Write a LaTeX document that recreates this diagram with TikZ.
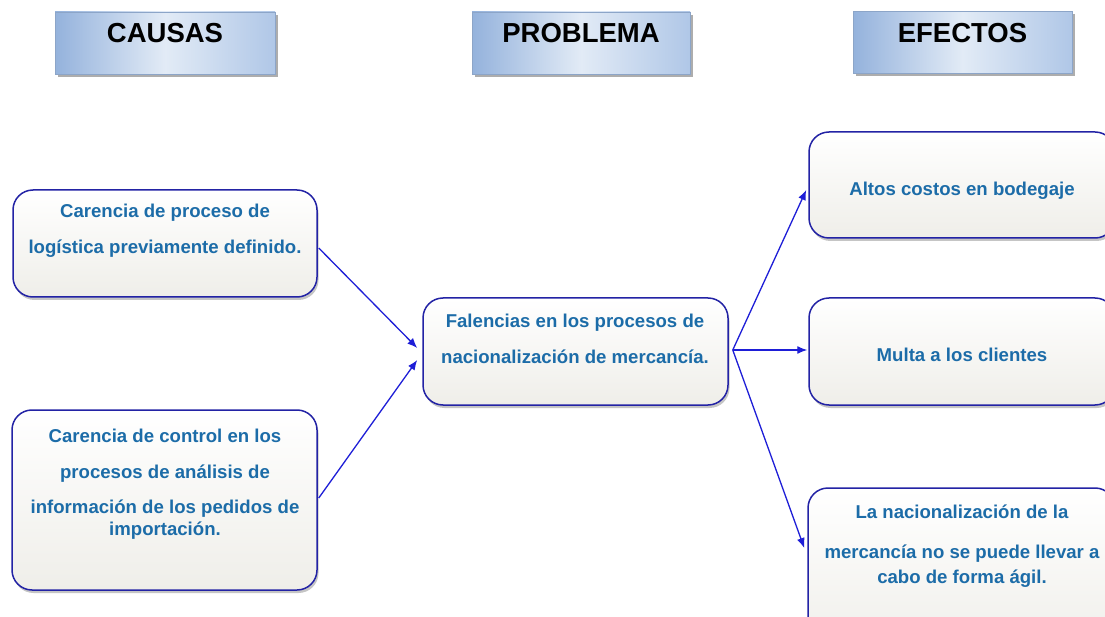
\documentclass[tikz,border=0pt]{standalone}
\usepackage{fontspec}
\setmainfont{Liberation Sans}
\usetikzlibrary{shadows,calc,arrows.meta}
\definecolor{txtblue}{RGB}{28,108,168}
\definecolor{edgeblue}{RGB}{35,35,165}
\definecolor{arrblue}{RGB}{30,30,215}
\definecolor{hdrA}{RGB}{148,178,220}
\definecolor{hdrB}{RGB}{226,235,246}
\definecolor{hdrC}{RGB}{176,199,231}
\definecolor{hdredge}{RGB}{140,165,200}
\definecolor{boxbot}{RGB}{239,238,233}
\begin{document}
\begin{tikzpicture}[x=1pt,y=-1pt,
  hdr/.style={draw=hdredge, line width=0.8pt, left color=hdrA, right color=hdrC, middle color=hdrB,
    drop shadow={shadow xshift=3pt,shadow yshift=-3pt,fill=black!40,opacity=.8},
    minimum height=62pt, inner sep=0pt},
  hdrtext/.style={font=\fontsize{27.5}{30}\selectfont\bfseries, text=black, anchor=base, inner sep=0pt},
  rbox/.style={draw=edgeblue, line width=1.5pt, rounded corners=20pt, top color=white, bottom color=boxbot,
    drop shadow={shadow xshift=1.5pt, shadow yshift=-3pt, fill=black!45, opacity=.5}, inner sep=0pt},
  ln/.style={font=\fontsize{18.6}{22}\selectfont\bfseries, text=txtblue, anchor=base, inner sep=0pt},
  arr/.style={draw=arrblue, line width=1.3pt, -{Latex[length=10pt,width=8pt]}}]
\useasboundingbox (0,0) rectangle (1105,617);
\clip (0,0) rectangle (1105,617);
\fill[white] (0,0) rectangle (1105,617);

% headers
\node[hdr, minimum width=220pt] (hc) at (165,43) {};
\node[hdr, minimum width=218pt] (hp) at (581,43) {};
\node[hdr, minimum width=219pt] (he) at (962.5,42.5) {};
\node[hdrtext] (hct) at (165,43) {CAUSAS};
\node[hdrtext] (hpt) at (581,43) {PROBLEMA};
\node[hdrtext] (het) at (962.5,43) {EFECTOS};

% boxes
\node[rbox, minimum width=304pt, minimum height=107pt] (c1) at (165,243.5) {};
\node[rbox, minimum width=305pt, minimum height=180pt] (c2) at (164.5,500) {};
\node[rbox, minimum width=305pt, minimum height=107pt] (pb) at (575.5,351.5) {};
\node[rbox, minimum width=306pt, minimum height=106pt] (e1) at (962,185) {};
\node[rbox, minimum width=306pt, minimum height=107pt] (e2) at (962,351.5) {};
\node[rbox, minimum width=307pt, minimum height=172pt] (e3) at (961.5,574) {};

% texts
\node[ln] (c1a) at (165,218) {Carencia de proceso de};
\node[ln] (c1b) at (165,254) {logística previamente definido.};
\node[ln] (c2a) at (165,442) {Carencia de control en los};
\node[ln] (c2b) at (165,478) {procesos de análisis de};
\node[ln] (c2c) at (165,513) {información de los pedidos de};
\node[ln] (c2d) at (165,535) {importación.};
\node[ln] (pba) at (575,327) {Falencias en los procesos de};
\node[ln] (pbb) at (575,363) {nacionalización de mercancía.};
\node[ln] (e1a) at (962,196) {Altos costos en bodegaje};
\node[ln] (e2a) at (962,361) {Multa a los clientes};
\node[ln] (e3a) at (962,518) {La nacionalización de la};
\node[ln] (e3b) at (962,558) {mercancía no se puede llevar a};
\node[ln] (e3c) at (962,583) {cabo de forma ágil.};

% connectors
\draw[arr] ($(c1.east)+(1,4.5)$) -- ($(pb.west)+(-5,-3.5)$);
\draw[arr] ($(c2.east)+(1,-2)$) -- ($(pb.west)+(-5,8.5)$);
\coordinate (hub) at ($(pb.east)+(4,-1.5)$);
\draw[arr] (hub) -- ($(e1.west)+(-2,5)$);
\draw[arr] (hub) -- ($(e2.west)+(-1,-1.5)$);
\draw[arr] (hub) -- ($(e3.west)+(-3,-26)$);
\end{tikzpicture}
\end{document}
